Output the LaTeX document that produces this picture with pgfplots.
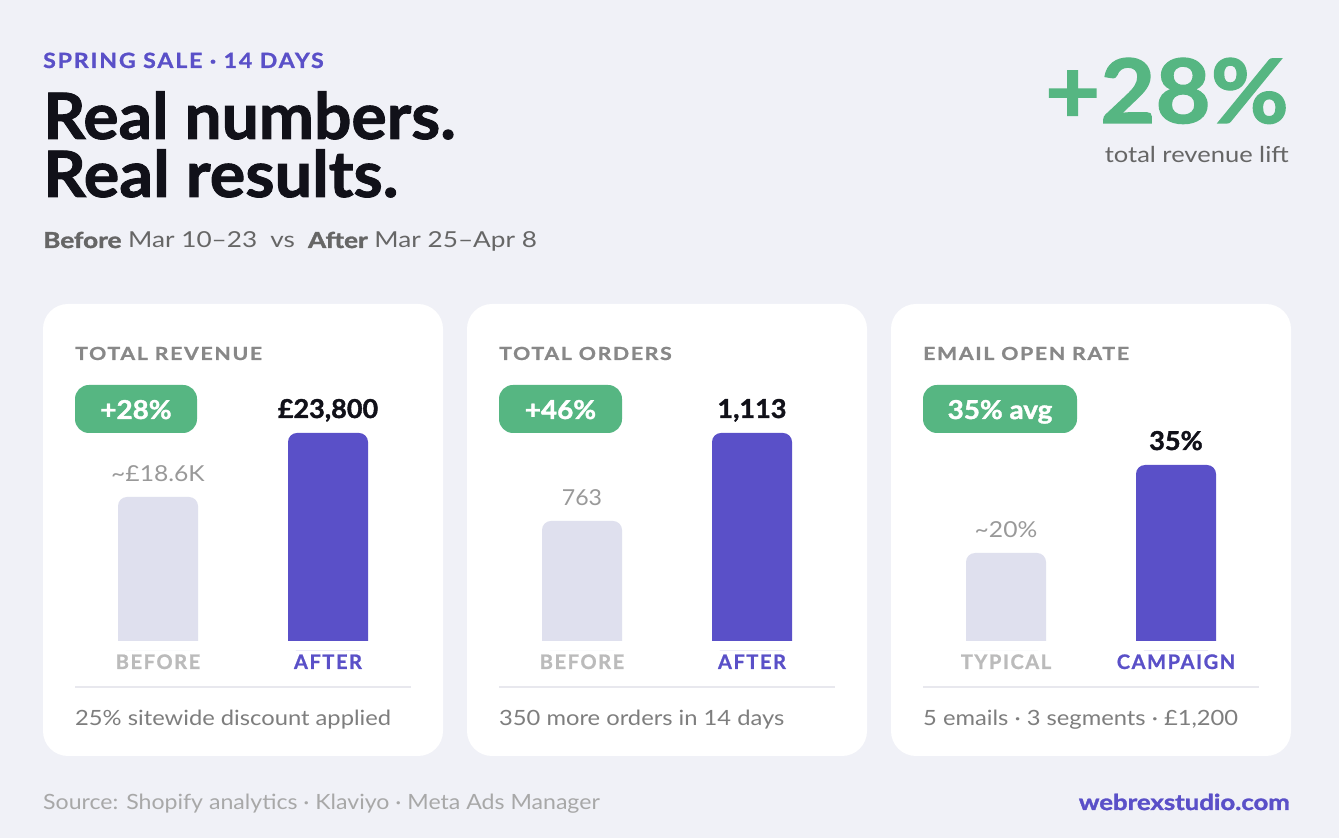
\documentclass[border=0pt]{standalone}
\usepackage{fontspec}
\usepackage{graphicx}
\setmainfont{Lato}
\newfontfamily\heavy{Lato}[BoldFeatures={FakeBold=1.4}]
\newfontfamily\trackfont{Lato}[LetterSpace=8, BoldFeatures={FakeBold=1.0}]
\usepackage{pgfplots}
\pgfplotsset{compat=1.18}
\definecolor{bg}{HTML}{F0F1F7}
\definecolor{brand}{HTML}{5A50C8}
\definecolor{lightbar}{HTML}{DFE0EE}
\definecolor{pill}{HTML}{56B682}
\definecolor{ink}{HTML}{111119}
\definecolor{sub}{HTML}{666666}
\definecolor{cardtitle}{HTML}{888888}
\definecolor{catgray}{HTML}{BBBBBB}
\definecolor{valgray}{HTML}{999999}
\definecolor{foot}{HTML}{7E7E7E}
\definecolor{source}{HTML}{A8A8A8}
\definecolor{sep}{HTML}{E8E8EE}
\newcommand\fs[1]{\fontsize{#1}{#1}\selectfont}
\newcommand\sx[2]{\scalebox{#1}[1]{#2}}
\pgfplotsset{
  card/.style={
    anchor=south west, scale only axis, width=340pt, height=271pt,
    xmin=-0.5, xmax=1.5,
    axis line style={draw=none}, tick style={draw=none},
    ytick=\empty, xtick={0,1},
    xticklabel style={anchor=base, yshift=-18pt, inner sep=0pt, font=\trackfont\bfseries\fs{20}},
  },
  beforebar/.style={ybar, bar width=80pt, bar shift=0pt, fill=lightbar, draw=none, rounded corners=9pt},
  afterbar/.style={ybar, bar width=80pt, bar shift=0pt, fill=brand, draw=none, rounded corners=9pt},
}
\tikzset{
  lowlab/.style={anchor=base, inner sep=0pt, yshift=15pt, text=valgray, font=\fs{22}},
  highlab/.style={anchor=base, inner sep=0pt, yshift=15pt, text=ink, font=\heavy\bfseries\fs{26}},
  txt/.style={inner sep=0pt},
}
\begin{document}
\begin{tikzpicture}[x=1pt,y=1pt]
\fill[bg] (0,0) rectangle (1339,838);
% cards
\foreach \dx in {0,424,848} {
  \fill[white, rounded corners=25pt] (43+\dx,82) rectangle (443+\dx,534);
  \draw[sep, line width=2pt] (75+\dx,151) -- (411+\dx,151);
}
% header
\node[txt, anchor=base west, text=brand] at (43,770) {\trackfont\bfseries\fs{21}\sx{1.10}{SPRING SALE · 14 DAYS}};
\node[txt, anchor=base west, text=ink] at (43,699) {\heavy\bfseries\fs{64}\sx{1.03}{Real numbers.}};
\node[txt, anchor=base west, text=ink] at (43,641) {\heavy\bfseries\fs{64}\sx{1.04}{Real results.}};
\node[txt, anchor=base west, text=sub] at (43,590) {\fs{22}\sx{1.19}{{\heavy\bfseries Before} Mar 10–23\enspace vs\enspace {\heavy\bfseries After} Mar 25–Apr 8}};
\node[txt, anchor=base east, text=pill] at (1289,715) {\heavy\bfseries\fs{89}\sx{1.07}{+28\%}};
\node[txt, anchor=base east, text=sub] at (1289,675) {\fs{22}\sx{1.16}{total revenue lift}};
% card titles
\node[txt, anchor=base west, text=cardtitle] at (75,478) {\trackfont\bfseries\fs{18}\sx{1.18}{TOTAL REVENUE}};
\node[txt, anchor=base west, text=cardtitle] at (499,478) {\trackfont\bfseries\fs{18}\sx{1.18}{TOTAL ORDERS}};
\node[txt, anchor=base west, text=cardtitle] at (923,478) {\trackfont\bfseries\fs{18}\sx{1.18}{EMAIL OPEN RATE}};
% pills
\fill[pill, rounded corners=14pt] (75,405) rectangle (197,453);
\node[txt, anchor=base, text=white] at (136,419) {\heavy\bfseries\fs{26}\sx{1.07}{+28\%}};
\fill[pill, rounded corners=14pt] (499,405) rectangle (622,453);
\node[txt, anchor=base, text=white] at (560.5,419) {\heavy\bfseries\fs{26}\sx{1.07}{+46\%}};
\fill[pill, rounded corners=14pt] (923,405) rectangle (1077,453);
\node[txt, anchor=base, text=white] at (1000,419) {\heavy\bfseries\fs{26}\sx{1.07}{35\% avg}};
% footnotes
\node[txt, anchor=base west, text=foot] at (75,112) {\fs{21}\sx{1.13}{25\% sitewide discount applied}};
\node[txt, anchor=base west, text=foot] at (499,112) {\fs{21}\sx{1.13}{350 more orders in 14 days}};
\node[txt, anchor=base west, text=foot] at (923,112) {\fs{21}\sx{1.13}{5 emails · 3 segments · £1,200}};
% footer
\node[txt, anchor=base west, text=source] at (43,28) {\fs{21}\sx{1.10}{Source: Shopify analytics · Klaviyo · Meta Ads Manager}};
\node[txt, anchor=base east, text=brand] at (1290,28) {\heavy\bfseries\fs{22}\sx{1.17}{webrexstudio.com}};

\begin{scope}
% keep the bars square at the bottom: hide the strip just below the bar bases
\clip (0,0) rectangle (1339,187) (0,197) rectangle (1339,838);
% chart 1: total revenue
\begin{axis}[card, at={(73pt,187pt)}, ymin=6087.5, ymax=28106,
  xticklabels={{\textcolor{catgray}{BEFORE}},{\textcolor{brand}{AFTER}}}]
\addplot[beforebar] coordinates {(0,18600)};
\addplot[afterbar] coordinates {(1,23800)};
\node[lowlab] at (axis cs:0,18600) {\sx{1.12}{\textasciitilde£18.6K}};
\node[highlab] at (axis cs:1,23800) {\sx{1.04}{£23,800}};
\end{axis}
% chart 2: total orders
\begin{axis}[card, at={(497pt,187pt)}, ymin=245.9, ymax=1323.7,
  xticklabels={{\textcolor{catgray}{BEFORE}},{\textcolor{brand}{AFTER}}}]
\addplot[beforebar] coordinates {(0,763)};
\addplot[afterbar] coordinates {(1,1113)};
\node[lowlab] at (axis cs:0,763) {\sx{1.05}{763}};
\node[highlab] at (axis cs:1,1113) {\sx{1.04}{1,113}};
\end{axis}
% chart 3: email open rate
\begin{axis}[card, at={(921pt,187pt)}, ymin=3.2955, ymax=49.49,
  xticklabels={{\textcolor{catgray}{TYPICAL}},{\textcolor{brand}{CAMPAIGN}}}]
\addplot[beforebar] coordinates {(0,20)};
\addplot[afterbar] coordinates {(1,35)};
\node[lowlab] at (axis cs:0,20) {\sx{1.12}{\textasciitilde20\%}};
\node[highlab] at (axis cs:1,35) {\sx{1.04}{35\%}};
\end{axis}
\end{scope}
\end{tikzpicture}
\end{document}
